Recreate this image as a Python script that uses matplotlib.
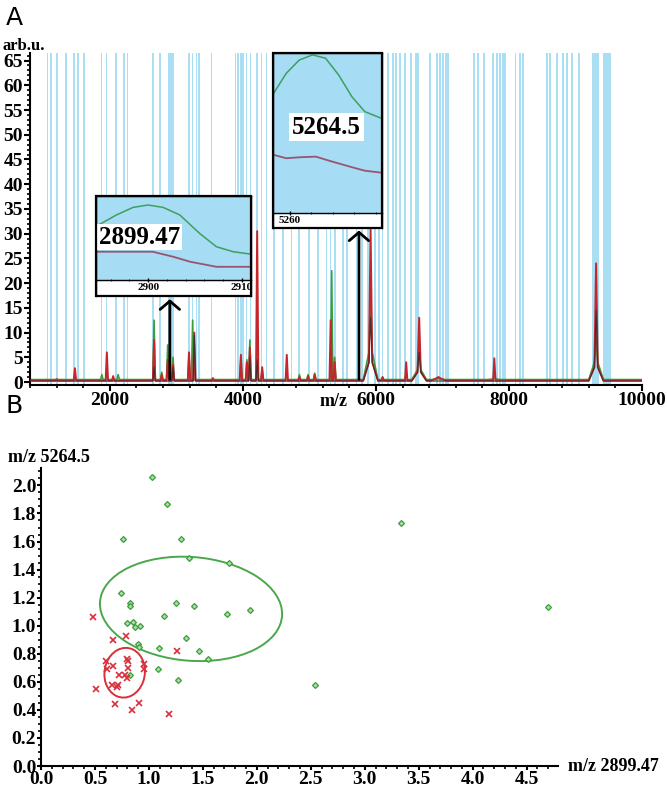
import matplotlib
matplotlib.use("Agg")
import matplotlib.pyplot as plt
from matplotlib.patches import Ellipse, Rectangle
from matplotlib.ticker import MultipleLocator, FixedLocator, FormatStrFormatter

plt.rcParams["font.family"] = ["Liberation Serif", "DejaVu Serif"]
plt.rcParams["font.weight"] = "bold"

# ---- panel A: mass spectra (m/z, peak height, skirt height) ----
RED_MZ = [1200, 1475, 1955, 2050, 2665, 2780, 2870, 2950, 3190, 3270, 3550, 3970, 4060, 4105,
          4215, 4290, 4660, 4850, 4980, 5080, 5320, 5380, 5920, 6100, 6455, 6650, 6940, 7780, 9310]
RED_H = [0.6, 2.8, 6.0, 1.2, 8.5, 1.5, 4.5, 3.5, 6.0, 10.0, 0.8, 5.5, 4.0, 7.0,
         30.5, 3.0, 5.5, 1.0, 1.2, 1.5, 12.5, 4.0, 31.0, 1.0, 4.0, 13.0, 1.0, 4.8, 24.0]
RED_SKIRT = [0, 0, 0, 0, 0, 0, 0, 0, 0, 0, 0, 0, 0, 0,
             0, 0, 0, 0, 0, 0, 0, 0, 4.0, 0, 0, 2.0, 0.8, 0, 3.0]

GREEN_MZ = [1880, 1955, 2125, 2665, 2780, 2870, 2950, 3190, 3245, 3550, 3970, 4060, 4105,
            4215, 4290, 4660, 4850, 4980, 5080, 5335, 5380, 5920, 6100, 6455, 6650, 6940, 7780, 9310]
GREEN_H = [1.5, 1.5, 1.5, 12.5, 2.0, 7.5, 5.0, 5.5, 12.5, 0.6, 5.0, 4.5, 8.5,
           4.5, 2.5, 1.0, 1.5, 1.5, 1.8, 22.5, 5.0, 18.0, 1.0, 1.5, 7.0, 1.0, 1.0, 9.0]
GREEN_SKIRT = [0, 0, 0, 0, 0, 0, 0, 0, 0, 0, 0, 0, 0,
               0, 0, 0, 0, 0, 0, 0, 0, 6.0, 0, 0, 2.5, 0, 0.6, 4.0]

DARK_MZ = [2665, 2950, 3270, 4105, 4215, 5920, 6650, 9310]
DARK_H = [3.0, 3.0, 9.5, 5.0, 4.5, 13.0, 6.0, 14.5]
DARK_SKIRT = [0, 0, 0, 0, 0, 4.0, 2.0, 3.0]

# highlighted m/z windows (centre, width)
BAND_MZ = [1063, 1113, 1207, 1338, 1459, 1523, 1609, 1875, 1950, 2090, 2211, 2266, 2651, 2752,
           2917, 3193, 3244, 3304, 3339, 3530, 3891, 3930, 3970, 4005, 4056, 4116, 4215, 4282,
           4357, 4467, 4606, 4733, 4847, 4997, 5133, 5259, 5319, 5384, 5509, 5569, 5710, 5786,
           5885, 5986, 6050, 6101, 6186, 6261, 6301, 6362, 6437, 6523, 6622, 6813, 6914, 6963,
           7013, 7064, 7475, 7539, 7625, 7765, 7816, 7866, 7930, 8096, 8166, 8216, 8568, 8618,
           8719, 8809, 8869, 8944, 9058, 9294, 9475]
BAND_W = [25, 25, 25, 25, 25, 25, 25, 25, 25, 25, 25, 25, 25, 25,
          90, 25, 25, 25, 25, 25, 25, 25, 25, 25, 25, 25, 25, 25,
          25, 25, 25, 25, 25, 25, 25, 25, 25, 25, 25, 25, 25, 25,
          25, 25, 25, 25, 25, 25, 25, 25, 25, 25, 60, 25, 25, 25,
          25, 60, 25, 25, 25, 25, 25, 25, 60, 25, 25, 25, 25, 25,
          25, 25, 25, 25, 25, 105, 120]

# zoomed insets (normalised intensity)
INS1_MZ = [2894.5, 2896.6, 2898.4, 2900.0, 2901.6, 2903.4, 2905.5, 2907.3, 2909.1, 2910.9]
INS1_GREEN = [0.643, 0.774, 0.865, 0.893, 0.865, 0.774, 0.556, 0.397, 0.337, 0.310]
INS1_RED_MZ = [2894.5, 2900.5, 2902.7, 2904.5, 2907.3, 2910.9]
INS1_RED = [0.337, 0.337, 0.277, 0.218, 0.158, 0.158]

INS2_MZ = [5259.23, 5259.82, 5260.43, 5261.05, 5261.66, 5262.27, 5262.89, 5263.50, 5264.27]
INS2_GREEN = [0.748, 0.873, 0.956, 0.988, 0.967, 0.863, 0.727, 0.633, 0.592]
INS2_RED_MZ = [5259.23, 5259.82, 5260.43, 5261.20, 5261.97, 5262.89, 5263.50, 5264.27]
INS2_RED = [0.363, 0.342, 0.348, 0.352, 0.321, 0.286, 0.264, 0.252]

ARROW_MZ = [2902, 5745]
ARROW_TOP = [17.3, 31.2]

# ---- panel B: scatter of the two peaks ----
GREEN_X = [1.03, 1.17, 0.76, 1.30, 1.37, 1.74, 0.74, 0.82, 0.82, 1.25, 1.42, 1.72, 1.94, 1.14, 0.80,
           0.85, 0.87, 0.92, 1.34, 0.90, 0.91, 1.09, 1.46, 1.55, 1.08, 0.82, 1.27, 2.54, 3.34, 4.70]
GREEN_Y = [2.06, 1.87, 1.62, 1.62, 1.48, 1.45, 1.23, 1.16, 1.14, 1.16, 1.14, 1.08, 1.11, 1.07, 1.02,
           1.03, 0.99, 1.00, 0.91, 0.87, 0.85, 0.84, 0.82, 0.76, 0.69, 0.65, 0.61, 0.58, 1.73, 1.13]
RED_X = [0.48, 0.79, 0.67, 1.26, 0.80, 0.81, 0.95, 0.60, 0.61, 0.67, 0.81, 0.95, 0.72, 0.78, 0.80,
         0.66, 0.71, 0.70, 0.51, 0.69, 0.91, 0.84, 1.19]
RED_Y = [1.06, 0.93, 0.90, 0.82, 0.76, 0.75, 0.73, 0.75, 0.69, 0.71, 0.70, 0.69, 0.65, 0.65, 0.63,
         0.58, 0.58, 0.56, 0.55, 0.44, 0.45, 0.40, 0.37]
# confidence ellipses: centre x, centre y, width, height, angle
GREEN_ELL = (1.39, 1.12, 1.69, 0.74, -3)
RED_ELL = (0.775, 0.665, 0.38, 0.35, 22)

RED_C = "#c4262c"
GREEN_C = "#3a9e3a"
DARK_C = "#4a2c2c"
BAND_C = "#a9def3"
INSET_C = "#a6dcf4"


def stick_profile(centers, heights, skirts, base):
    pts = [(800, base), (10000, base)]
    for c, h, s in zip(centers, heights, skirts):
        if s > 0:
            pts += [(c - 110, base), (c - 25, s), (c, h), (c + 25, s), (c + 110, base)]
        else:
            pts += [(c - 18, base), (c, h), (c + 18, base)]
    pts.sort()
    return [p[0] for p in pts], [p[1] for p in pts]


def style_inset(ax, strip):
    ax.set_facecolor("white")
    ax.add_patch(Rectangle((0, strip), 1, 1 - strip, transform=ax.transAxes,
                           color=INSET_C, zorder=0))
    ax.spines["bottom"].set_position(("axes", strip))
    for s in ax.spines.values():
        s.set_linewidth(1.0)
    ax.add_patch(Rectangle((0, 0), 1, 1, transform=ax.transAxes, fill=False,
                           ec="black", lw=1.6, clip_on=False, zorder=5))
    ax.set_yticks([])
    ax.tick_params(axis="x", direction="inout", length=3, width=1, labelsize=8, pad=1)


fig = plt.figure(figsize=(6.67, 7.93), dpi=100)

# ---------------- Panel A ----------------
axA = fig.add_axes([0.045, 0.5145, 0.9175, 0.4185])
for c, w in zip(BAND_MZ, BAND_W):
    axA.axvspan(c - w / 2, c + w / 2, color=BAND_C, lw=0, zorder=0)

gx, gy = stick_profile(GREEN_MZ, GREEN_H, GREEN_SKIRT, 0.5)
rx, ry = stick_profile(RED_MZ, RED_H, RED_SKIRT, 0.3)
dx, dy = stick_profile(DARK_MZ, DARK_H, DARK_SKIRT, 0.2)
axA.plot(gx, gy, color=GREEN_C, lw=1.2, zorder=2)
axA.plot(rx, ry, color=RED_C, lw=1.4, zorder=3)
axA.plot(dx, dy, color=DARK_C, lw=0.8, zorder=3)

for mz, top in zip(ARROW_MZ, ARROW_TOP):
    axA.annotate("", xy=(mz, top), xytext=(mz, 0),
                 arrowprops=dict(arrowstyle="->,head_length=0.3,head_width=0.35",
                                 color="black", lw=2, mutation_scale=20),
                 zorder=6)

axA.set_xlim(800, 10000)
axA.set_ylim(-0.6, 66.5)
axA.spines["top"].set_visible(False)
axA.spines["right"].set_visible(False)
axA.spines["left"].set_linewidth(1.5)
axA.spines["bottom"].set_linewidth(1.5)
axA.xaxis.set_major_locator(FixedLocator([2000, 4000, 6000, 8000, 10000]))
axA.xaxis.set_minor_locator(MultipleLocator(400))
axA.yaxis.set_major_locator(MultipleLocator(5))
axA.yaxis.set_minor_locator(MultipleLocator(1))
axA.tick_params(axis="both", which="major", length=4, width=1.5, labelsize=14, pad=1)
axA.tick_params(axis="both", which="minor", length=2, width=1.2)

# inset 1 (m/z 2899.47)
ins1 = fig.add_axes([0.1435, 0.6267, 0.2328, 0.1261], zorder=4)
style_inset(ins1, 0.16)
ins1.plot(INS1_MZ, INS1_GREEN, color="#3f9f5f", lw=1.1)
ins1.plot(INS1_RED_MZ, INS1_RED, color="#9a5470", lw=1.3)
ins1.set_xlim(2894.4, 2911.0)
ins1.set_ylim(-0.19, 1.0)
ins1.xaxis.set_major_locator(FixedLocator([2900, 2910]))
ins1.xaxis.set_minor_locator(MultipleLocator(2))
ins1.tick_params(axis="x", which="minor", direction="inout", length=2)
ins1.text(0.02, 0.59, "2899.47", transform=ins1.transAxes, fontsize=18, fontweight="bold",
          va="center", ha="left", bbox=dict(fc="white", ec="none", pad=1))

# inset 2 (m/z 5264.5)
ins2 = fig.add_axes([0.4093, 0.7125, 0.1634, 0.2207], zorder=4)
style_inset(ins2, 0.0857)
ins2.plot(INS2_MZ, INS2_GREEN, color="#3f9f5f", lw=1.1)
ins2.plot(INS2_RED_MZ, INS2_RED, color="#9a5470", lw=1.3)
ins2.set_xlim(5259.2, 5264.3)
ins2.set_ylim(-0.094, 1.0)
ins2.xaxis.set_major_locator(FixedLocator([5260]))
ins2.xaxis.set_minor_locator(MultipleLocator(1))
ins2.tick_params(axis="x", which="minor", direction="inout", length=2)
ins2.text(0.49, 0.577, "5264.5", transform=ins2.transAxes, fontsize=18, fontweight="bold",
          va="center", ha="center", bbox=dict(fc="white", ec="none", pad=2))

fig.text(0.004, 0.942, "arb.u.", fontsize=12, fontweight="bold", va="center")
fig.text(0.50, 0.494, "m/z", fontsize=13, fontweight="bold", va="center", ha="center")
fig.text(0.008, 0.993, "A", fontsize=18, fontweight="normal", family="DejaVu Sans", va="top")
fig.text(0.008, 0.503, "B", fontsize=18, fontweight="normal", family="DejaVu Sans", va="top")

# ---------------- Panel B ----------------
axB = fig.add_axes([0.0615, 0.034, 0.775, 0.376])
axB.plot(GREEN_X, GREEN_Y, linestyle="none", marker="D", markersize=3.0,
         mfc="#b0dca8", mec=GREEN_C, mew=0.9)
axB.plot(RED_X, RED_Y, linestyle="none", marker="x", markersize=4.5,
         color="#d8303a", mew=1.2)
for (cx, cy, w, h, ang), col in [(GREEN_ELL, "#4aa84a"), (RED_ELL, "#d8303a")]:
    axB.add_patch(Ellipse((cx, cy), w, h, angle=ang, fill=False, ec=col, lw=1.4))

axB.set_xlim(0, 4.79)
axB.set_ylim(0, 2.125)
axB.spines["top"].set_visible(False)
axB.spines["right"].set_visible(False)
axB.spines["left"].set_linewidth(1.5)
axB.spines["bottom"].set_linewidth(1.5)
axB.xaxis.set_major_locator(MultipleLocator(0.5))
axB.xaxis.set_minor_locator(MultipleLocator(0.1))
axB.yaxis.set_major_locator(MultipleLocator(0.2))
axB.yaxis.set_minor_locator(MultipleLocator(0.05))
axB.xaxis.set_major_formatter(FormatStrFormatter("%.1f"))
axB.yaxis.set_major_formatter(FormatStrFormatter("%.1f"))
axB.tick_params(axis="both", which="major", length=3, width=1.5, labelsize=14, pad=0.5)
axB.tick_params(axis="both", which="minor", length=2, width=1.2)

fig.text(0.012, 0.4237, "m/z 5264.5", fontsize=13, fontweight="bold", va="center")
fig.text(0.852, 0.034, "m/z 2899.47", fontsize=13, fontweight="bold", va="center")

fig.savefig("out.png", dpi=100)
